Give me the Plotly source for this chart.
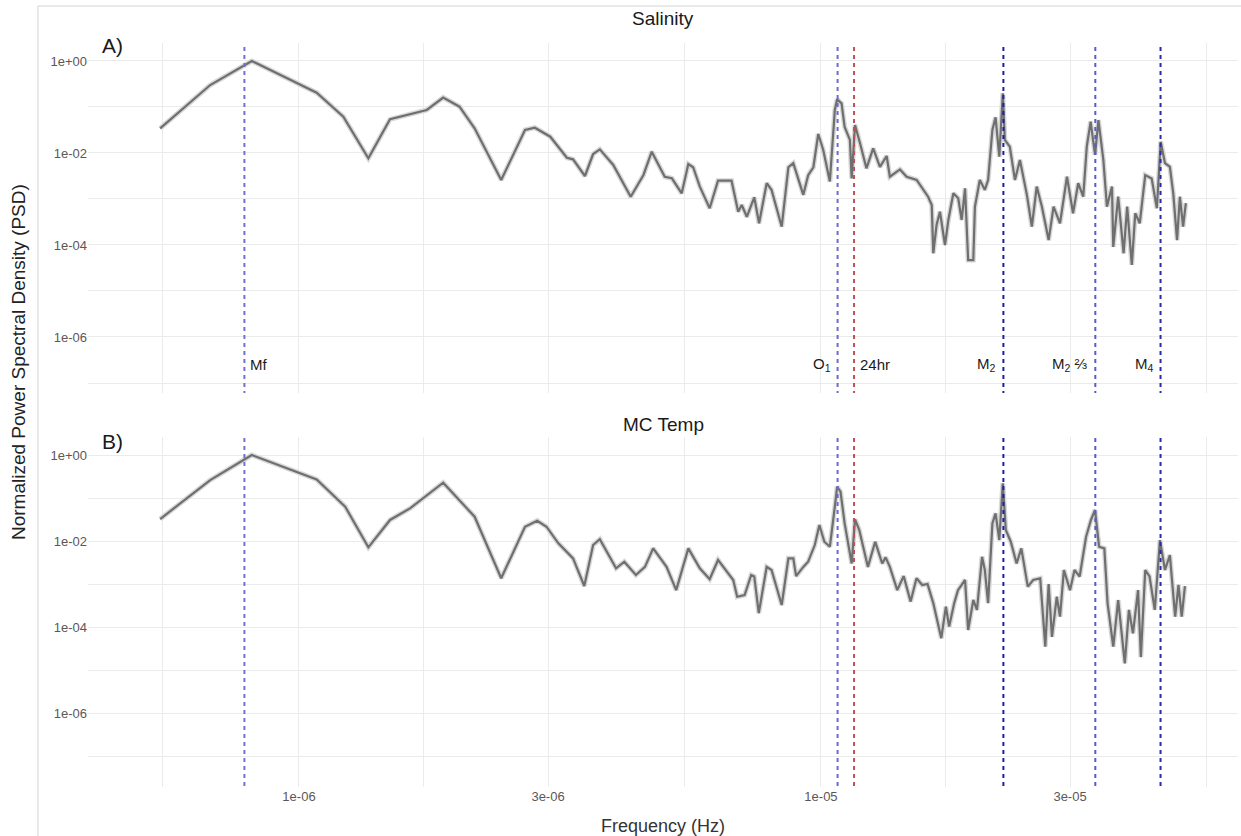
import numpy as np
import plotly.graph_objects as go

# ---------------- data ----------------
sal_freq = [5.42e-7, 6.76e-7, 8.12e-7, 1.081e-6, 1.216e-6, 1.358e-6, 1.494e-6, 1.757e-6, 1.889e-6, 2.03e-6,
            2.17e-6, 2.44e-6, 2.71e-6, 2.83e-6, 3.03e-6, 3.26e-6, 3.35e-6, 3.53e-6, 3.66e-6, 3.77e-6,
            4.0e-6, 4.32e-6, 4.57e-6, 4.74e-6, 5.02e-6, 5.18e-6, 5.41e-6, 5.57e-6, 5.69e-6, 5.86e-6,
            6.12e-6, 6.35e-6, 6.74e-6, 6.94e-6, 7.05e-6, 7.21e-6, 7.45e-6, 7.61e-6, 7.87e-6, 8.04e-6,
            8.41e-6, 8.66e-6, 8.85e-6, 9.25e-6, 9.45e-6, 9.67e-6, 9.88e-6, 1.01e-5, 1.04e-5, 1.063e-5,
            1.074e-5, 1.095e-5, 1.11e-5, 1.136e-5, 1.145e-5, 1.162e-5, 1.188e-5, 1.222e-5, 1.259e-5, 1.297e-5,
            1.336e-5, 1.355e-5, 1.417e-5, 1.459e-5, 1.525e-5, 1.604e-5, 1.63e-5, 1.641e-5, 1.665e-5, 1.69e-5,
            1.728e-5, 1.754e-5, 1.793e-5, 1.832e-5, 1.86e-5, 1.888e-5, 1.914e-5, 1.958e-5, 1.972e-5, 2.015e-5,
            2.06e-5, 2.09e-5, 2.13e-5, 2.16e-5, 2.196e-5, 2.23e-5, 2.25e-5, 2.30e-5, 2.353e-5, 2.405e-5,
            2.48e-5, 2.535e-5, 2.59e-5, 2.65e-5, 2.73e-5, 2.79e-5, 2.87e-5, 2.96e-5, 3.04e-5, 3.11e-5,
            3.18e-5, 3.23e-5, 3.285e-5, 3.35e-5, 3.40e-5, 3.475e-5, 3.53e-5, 3.61e-5, 3.63e-5, 3.71e-5,
            3.80e-5, 3.86e-5, 3.94e-5, 4.0e-5, 4.08e-5, 4.18e-5, 4.30e-5, 4.40e-5, 4.475e-5, 4.56e-5,
            4.66e-5, 4.73e-5, 4.81e-5, 4.87e-5, 4.94e-5, 5.0e-5]
sal_psd = [0.0344, 0.30, 1.0, 0.205, 0.0616, 0.00766, 0.054, 0.086, 0.160, 0.1016,
           0.0344, 0.00259, 0.0316, 0.0355, 0.0226, 0.0079, 0.00728, 0.00316, 0.0095, 0.0120,
           0.0055, 0.00112, 0.00333, 0.0107, 0.00305, 0.00282, 0.00133, 0.00576, 0.0049, 0.00186,
           0.00063, 0.0025, 0.0025, 0.00053, 0.00074, 0.00041, 0.00109, 0.000296, 0.0022, 0.00158,
           0.00025, 0.0049, 0.006, 0.00123, 0.0033, 0.0049, 0.0259, 0.0116, 0.0024, 0.086,
           0.147, 0.12, 0.037, 0.0192, 0.0028, 0.0407, 0.0163, 0.00464, 0.0126, 0.0050,
           0.0086, 0.00305, 0.0044, 0.00305, 0.00259, 0.00112, 0.00074, 6.6e-5, 0.000272, 0.00053,
           1.0e-4, 0.00035, 0.00133, 0.00104, 0.00035, 0.00171, 4.7e-5, 4.7e-5, 0.00068, 0.00259,
           0.00158, 0.00259, 0.0316, 0.0596, 0.0083, 0.198, 0.0192, 0.0137, 0.00259, 0.00705,
           0.00123, 0.00025, 0.00186, 0.00068, 0.000128, 0.00068, 0.000296, 0.00305, 0.00049, 0.0022,
           0.00112, 0.0137, 0.048, 0.0091, 0.052, 0.00705, 0.00068, 0.00186, 9.1e-5, 0.00112,
           6.6e-5, 0.00068, 3.7e-5, 0.00049, 0.000296, 0.0033, 0.0028, 0.00063, 0.0176, 0.006,
           0.005, 0.00133, 0.000128, 0.00112, 0.00025, 0.00081]

temp_freq = [5.42e-7, 6.76e-7, 8.12e-7, 1.081e-6, 1.226e-6, 1.358e-6, 1.494e-6, 1.632e-6, 1.889e-6, 2.17e-6,
             2.44e-6, 2.71e-6, 2.86e-6, 2.98e-6, 3.14e-6, 3.35e-6, 3.52e-6, 3.66e-6, 3.77e-6, 4.05e-6,
             4.2e-6, 4.42e-6, 4.6e-6, 4.77e-6, 5.06e-6, 5.28e-6, 5.57e-6, 5.86e-6, 6.12e-6, 6.35e-6,
             6.79e-6, 6.91e-6, 7.14e-6, 7.35e-6, 7.45e-6, 7.6e-6, 7.87e-6, 8.04e-6, 8.41e-6, 8.66e-6,
             8.85e-6, 8.96e-6, 9.25e-6, 9.45e-6, 9.73e-6, 9.93e-6, 1.015e-5, 1.04e-5, 1.063e-5, 1.074e-5,
             1.09e-5, 1.11e-5, 1.145e-5, 1.162e-5, 1.184e-5, 1.23e-5, 1.27e-5, 1.31e-5, 1.33e-5, 1.355e-5,
             1.40e-5, 1.44e-5, 1.485e-5, 1.524e-5, 1.563e-5, 1.60e-5, 1.641e-5, 1.70e-5, 1.735e-5, 1.76e-5,
             1.80e-5, 1.83e-5, 1.888e-5, 1.914e-5, 1.958e-5, 1.99e-5, 2.035e-5, 2.06e-5, 2.09e-5, 2.13e-5,
             2.16e-5, 2.196e-5, 2.23e-5, 2.26e-5, 2.31e-5, 2.37e-5, 2.42e-5, 2.49e-5, 2.55e-5, 2.63e-5,
             2.69e-5, 2.73e-5, 2.77e-5, 2.83e-5, 2.87e-5, 2.92e-5, 3.0e-5, 3.06e-5, 3.13e-5, 3.22e-5,
             3.29e-5, 3.35e-5, 3.41e-5, 3.49e-5, 3.54e-5, 3.63e-5, 3.71e-5, 3.82e-5, 3.89e-5, 3.96e-5,
             4.05e-5, 4.10e-5, 4.18e-5, 4.26e-5, 4.36e-5, 4.46e-5, 4.56e-5, 4.66e-5, 4.77e-5, 4.84e-5,
             4.91e-5, 4.98e-5]
temp_psd = [0.0325, 0.262, 1.0, 0.272, 0.063, 0.00713, 0.0309, 0.0575, 0.227, 0.0368,
            0.00136, 0.0215, 0.0297, 0.0215, 0.00883, 0.00395, 0.000898, 0.00807, 0.011, 0.00232,
            0.0033, 0.00162, 0.0025, 0.00676, 0.0025, 0.00072, 0.00676, 0.00232, 0.00129, 0.00363,
            0.00124, 0.000507, 0.000555, 0.00162, 0.0015, 0.00021, 0.0025, 0.00212, 0.000325, 0.00395,
            0.00395, 0.00153, 0.0025, 0.0033, 0.00807, 0.0236, 0.00964, 0.00737, 0.063, 0.183,
            0.14, 0.0258, 0.003, 0.0319, 0.018, 0.0025, 0.00964, 0.003, 0.00417, 0.0025,
            0.00072, 0.00153, 0.00039, 0.00136, 0.00095, 0.001, 0.00036, 5.5e-5, 0.000296, 0.000102,
            0.00036, 0.00072, 0.00124, 8.5e-5, 0.000425, 0.00025, 0.00431, 0.00212, 0.00036, 0.0258,
            0.044, 0.0105, 0.22, 0.018, 0.00964, 0.003, 0.00676, 0.00087, 0.00124, 0.00136,
            3.5e-5, 0.001, 5.9e-5, 0.000507, 0.000174, 0.00212, 0.00072, 0.00212, 0.0015, 0.0126,
            0.0309, 0.0526, 0.00737, 0.00676, 0.00036, 3.5e-5, 0.000425, 1.43e-5, 0.00025, 7.1e-5,
            0.00072, 2.0e-5, 0.00212, 0.0015, 0.00025, 0.0105, 0.00212, 0.00472, 0.000174, 0.00095,
            0.000174, 0.000898]

const_names = ["Mf", "O<sub>1</sub>", "24hr", "M<sub>2</sub>", "M<sub>2</sub> \u2154", "M<sub>4</sub>"]
const_freq = [7.86e-7, 1.076e-5, 1.157e-5, 2.236e-5, 3.354e-5, 4.472e-5]
const_color = ["#7272cc", "#6a6ad2", "#c0504d", "#1f1fa3", "#5c5cc8", "#2a2aab"]
# which side of its line each label sits on
label_side = ["right", "left", "right", "left", "left", "left"]
label_psd = 2.5e-7

x_tickvals = [1e-6, 3e-6, 1e-5, 3e-5]
x_ticktext = ["1e-06", "3e-06", "1e-05", "3e-05"]
x_minor = [5.477e-7, 1.732e-6, 5.477e-6, 1.732e-5, 5.477e-5]
y_tickvals = [1e0, 1e-2, 1e-4, 1e-6]
y_ticktext = ["1e+00", "1e-02", "1e-04", "1e-06"]
y_minor = [1e-1, 1e-3, 1e-5, 1e-7]

# ---------------- figure ----------------
FONT = "Liberation Sans, Arial, sans-serif"
GRID = "#ebebeb"
fig = go.Figure()

panels = [("x", "y", sal_freq, sal_psd), ("x2", "y2", temp_freq, temp_psd)]
for xa, ya, fr, ps in panels:
    # light ribbon-like halo
    fig.add_trace(go.Scatter(x=fr, y=ps, xaxis=xa, yaxis=ya, mode="lines",
                             line=dict(color="#d8d8d8", width=5), hoverinfo="skip", showlegend=False))
    fig.add_trace(go.Scatter(x=fr, y=ps, xaxis=xa, yaxis=ya, mode="lines",
                             line=dict(color="#6f6f6f", width=2.2), showlegend=False))
    for f, c in zip(const_freq, const_color):
        fig.add_trace(go.Scatter(x=[f, f], y=[1e-9, 1e2], xaxis=xa, yaxis=ya, mode="lines",
                                 line=dict(color=c, width=2, dash="4px,4px"),
                                 hoverinfo="skip", showlegend=False))

xr = [-6.4042, -4.2011]
xt_all = x_tickvals + x_minor
common_x = dict(type="log", range=xr, tickvals=xt_all, showgrid=True, gridcolor=GRID, gridwidth=1,
                zeroline=False, showline=False, ticks="")
common_y = dict(type="log", tickvals=y_tickvals + y_minor,
                ticktext=y_ticktext + [""] * len(y_minor), showgrid=True, gridcolor=GRID,
                gridwidth=1, zeroline=False, showline=False, ticks="",
                tickfont=dict(family=FONT, size=13, color="#5e5656"))

fig.update_layout(
    width=1241, height=836,
    margin=dict(l=88, r=3, t=43, b=49),
    paper_bgcolor="white", plot_bgcolor="white",
    font=dict(family=FONT, color="#222222"),
    xaxis=dict(common_x, anchor="y", domain=[0, 1], showticklabels=False),
    yaxis=dict(common_y, anchor="x", domain=[0.5296, 1], range=[-7.217, 0.391]),
    xaxis2=dict(common_x, anchor="y2", domain=[0, 1], ticktext=x_ticktext + [""] * len(x_minor),
                tickfont=dict(family=FONT, size=13, color="#5e5656")),
    yaxis2=dict(common_y, anchor="x2", domain=[0, 0.4704], range=[-7.721, 0.419]),
)

ann = []
for name, f, side in zip(const_names, const_freq, label_side):
    # side == "right": text to the right of the line (anchored by its left edge)
    anchor = "left" if side == "right" else "right"
    ann.append(dict(x=np.log10(f), y=np.log10(label_psd), xref="x", yref="y", text=name,
                    showarrow=False, xanchor=anchor, yanchor="middle",
                    xshift=(4 if side == "right" else -5),
                    font=dict(family=FONT, size=15, color="#1a1a1a")))

ann += [
    dict(x=0.5, y=1.0336, xref="paper", yref="paper", text="Salinity", showarrow=False,
         xanchor="center", yanchor="middle", font=dict(family=FONT, size=19, color="#1a1a1a")),
    dict(x=0.5, y=0.4879, xref="paper", yref="paper", text="MC Temp", showarrow=False,
         xanchor="center", yanchor="middle", font=dict(family=FONT, size=19, color="#1a1a1a")),
    dict(x=0.0209, y=0.9973, xref="paper", yref="paper", text="A)", showarrow=False,
         xanchor="center", yanchor="middle", font=dict(family=FONT, size=21, color="#1a1a1a")),
    dict(x=0.0209, y=0.465, xref="paper", yref="paper", text="B)", showarrow=False,
         xanchor="center", yanchor="middle", font=dict(family=FONT, size=21, color="#1a1a1a")),
    dict(x=-0.0609, y=0.5712, xref="paper", yref="paper", text="Normalized Power Spectral Density (PSD)",
         textangle=-90, showarrow=False, xanchor="center", yanchor="middle",
         font=dict(family=FONT, size=19, color="#222222")),
    dict(x=0.5, y=-0.0524, xref="paper", yref="paper", text="Frequency (Hz)", showarrow=False,
         xanchor="center", yanchor="middle", font=dict(family=FONT, size=18, color="#333333")),
]
fig.update_layout(annotations=ann)

# thin outer frame lines (top and left) seen in the reference
fig.add_shape(type="line", xref="paper", yref="paper", x0=-0.0435, x1=1.01, y0=1.0497, y1=1.0497,
              line=dict(color="#d4d4d4", width=1))
fig.add_shape(type="line", xref="paper", yref="paper", x0=-0.0435, x1=-0.0435, y0=-0.07, y1=1.0497,
              line=dict(color="#d4d4d4", width=1))

fig.write_html("out.html")
